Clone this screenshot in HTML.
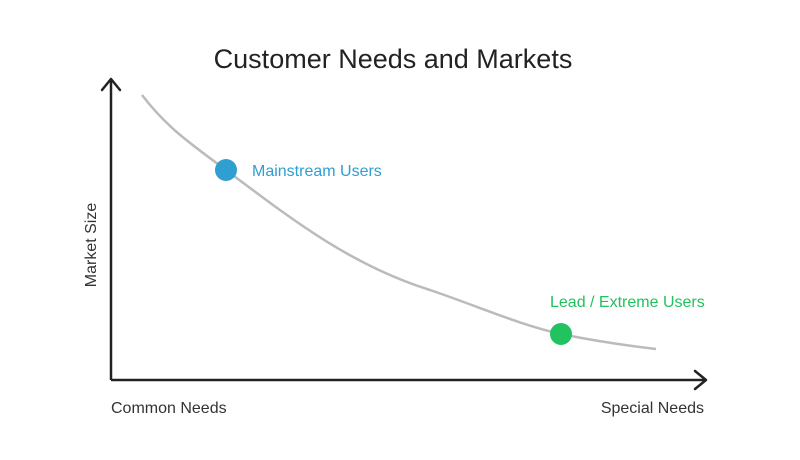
<!DOCTYPE html>
<html><head><style>body{margin:0;background:#fff;}svg{display:block}</style></head>
<body>
<svg width="800" height="460" xmlns="http://www.w3.org/2000/svg" font-family="Liberation Sans, sans-serif">
<text x="393" y="68" text-anchor="middle" font-size="27" fill="#222">Customer Needs and Markets</text>
<line x1="111" y1="380" x2="111" y2="79" stroke="#222" stroke-width="2.5"/>
<polyline points="102,90 111,79 120,90" fill="none" stroke="#222" stroke-width="2.5" stroke-linecap="round" stroke-linejoin="round"/>
<line x1="111" y1="380" x2="706" y2="380" stroke="#222" stroke-width="2.5"/>
<polyline points="695,371 706,380 695,389" fill="none" stroke="#222" stroke-width="2.5" stroke-linecap="round" stroke-linejoin="round"/>
<path d="M142,95 C165,125 185,140 226,170 C290,218 350,265 430,290 C480,307 520,325 561,334 C600,342 630,346 656,349" fill="none" stroke="#bbb" stroke-width="2.5"/>
<circle cx="226" cy="170" r="11" fill="#2f9ed1"/>
<text x="252" y="176" font-size="16" fill="#2f9ed1">Mainstream Users</text>
<circle cx="561" cy="334" r="11" fill="#22c25e"/>
<text x="550" y="307" font-size="16" fill="#22c25e">Lead / Extreme Users</text>
<text x="111" y="413" font-size="16" fill="#333">Common Needs</text>
<text x="704" y="413" font-size="16" fill="#333" text-anchor="end">Special Needs</text>
<text transform="translate(96,245) rotate(-90)" font-size="16" fill="#333" text-anchor="middle">Market Size</text>
</svg>
</body></html>
